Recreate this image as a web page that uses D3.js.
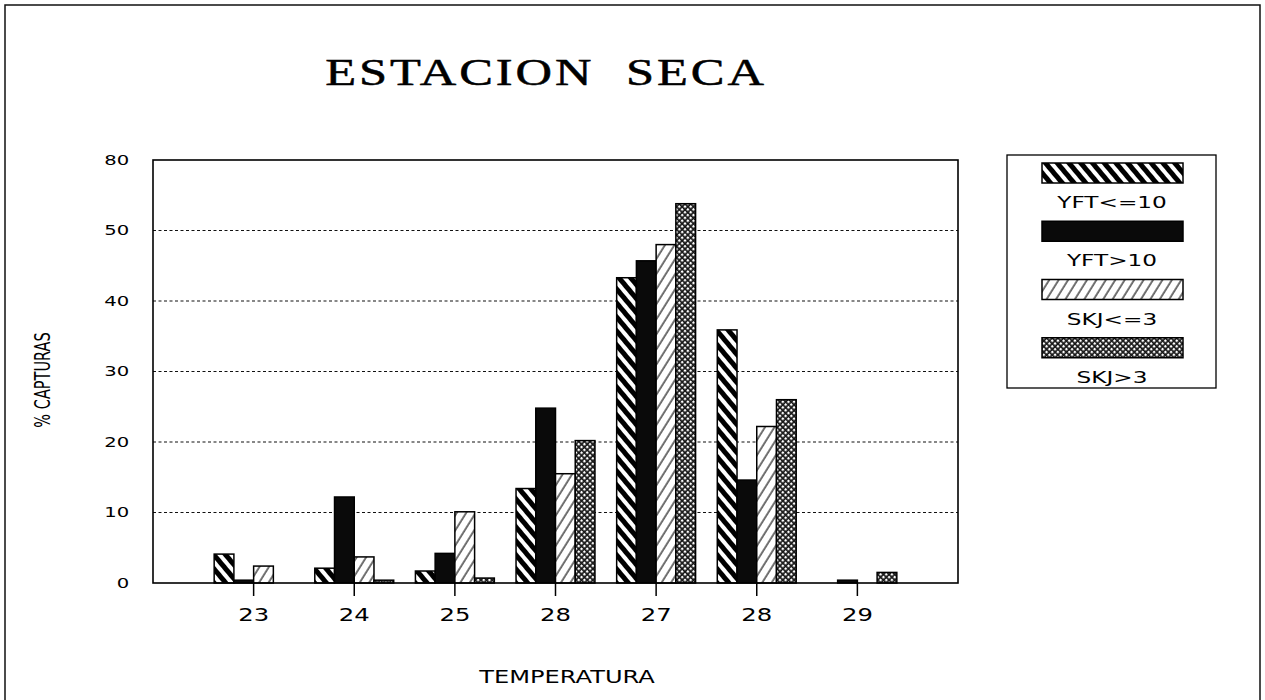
<!DOCTYPE html>
<html lang="es">
<head>
<meta charset="UTF-8">
<title>Estacion seca</title>
<script src="https://d3js.org/d3.v7.min.js"></script>
<style>
    body { margin: 0; background: #fff; }
    text { font-family: "DejaVu Sans", sans-serif; fill: #000; }
</style>
</head>
<body>
<div id="chart"></div>
<script>
    // data
    const tempLabels = ["23", "24", "25", "28", "27", "28", "29"];
    const seriesNames = ["YFT<=10", "YFT>10", "SKJ<=3", "SKJ>3"];
    const yftSmall = [4.1, 2.1, 1.7, 13.4, 43.3, 35.9, 0];
    const yftLarge = [0.4, 12.2, 4.2, 24.8, 45.7, 14.6, 0.4];
    const skjSmall = [2.4, 3.7, 10.1, 15.5, 48.0, 22.2, 0];
    const skjLarge = [0, 0.4, 0.7, 20.2, 53.8, 26.0, 1.5];
    const yTickValues = [0, 10, 20, 30, 40, 50, 60];
    const yTickLabels = ["0", "10", "20", "30", "40", "50", "80"];

    const seriesValues = [yftSmall, yftLarge, skjSmall, skjLarge];
    const fills = ["url(#hatchThick)", "#0a0a0a", "url(#hatchThin)", "url(#cross)"];

    const W = 1265, H = 700;
    const plot = {left: 153, right: 958, top: 160, bottom: 583};

    const svg = d3.select("#chart").append("svg")
        .attr("width", W).attr("height", H);

    // patterns
    const defs = svg.append("defs");
    const p1 = defs.append("pattern").attr("id", "hatchThick")
        .attr("patternUnits", "userSpaceOnUse").attr("width", 9).attr("height", 9)
        .attr("patternTransform", "rotate(-40)");
    p1.append("rect").attr("width", 9).attr("height", 9).attr("fill", "#fff");
    p1.append("rect").attr("width", 5).attr("height", 9).attr("fill", "#000");

    const p2 = defs.append("pattern").attr("id", "hatchThin")
        .attr("patternUnits", "userSpaceOnUse").attr("width", 8).attr("height", 8)
        .attr("patternTransform", "rotate(32)");
    p2.append("rect").attr("width", 8).attr("height", 8).attr("fill", "#fff");
    p2.append("rect").attr("x", 3.5).attr("width", 1.1).attr("height", 8).attr("fill", "#000");

    const p3 = defs.append("pattern").attr("id", "cross")
        .attr("patternUnits", "userSpaceOnUse").attr("width", 4).attr("height", 4)
        .attr("patternTransform", "rotate(45)");
    p3.append("rect").attr("width", 4).attr("height", 4).attr("fill", "#151515");
    p3.append("rect").attr("x", 1).attr("y", 1).attr("width", 2.3).attr("height", 2.3).attr("fill", "#fff");

    // page frame of the scan
    svg.append("path")
        .attr("d", `M5,${H} V5 H1260 V${H}`)
        .attr("fill", "none").attr("stroke", "#111").attr("stroke-width", 1.5);

    // scales
    const x = d3.scaleBand()
        .domain(d3.range(tempLabels.length))
        .range([plot.left, plot.right])
        .paddingOuter(0.5).paddingInner(0);

    const x1 = d3.scaleBand()
        .domain(seriesNames)
        .range([0, x.bandwidth()])
        .paddingOuter(0.55).paddingInner(0);

    const y = d3.scaleLinear()
        .domain([0, 60])
        .range([plot.bottom, plot.top]);

    // dotted grid
    svg.append("g")
        .selectAll("line")
        .data(yTickValues.slice(1, -1))
        .join("line")
        .attr("x1", plot.left).attr("x2", plot.right)
        .attr("y1", d => y(d)).attr("y2", d => y(d))
        .attr("stroke", "#111").attr("stroke-width", 1.2)
        .attr("stroke-dasharray", "3,2.5");

    // bars
    const groups = svg.append("g")
        .selectAll("g")
        .data(tempLabels.map((t, i) => i))
        .join("g")
        .attr("transform", i => `translate(${x(i)},0)`);

    groups.selectAll("rect")
        .data(i => seriesNames.map((s, k) => ({key: s, k: k, v: seriesValues[k][i]})))
        .join("rect")
        .filter(d => d.v > 0)
        .attr("x", d => x1(d.key))
        .attr("y", d => y(d.v))
        .attr("width", x1.bandwidth())
        .attr("height", d => y(0) - y(d.v))
        .attr("fill", d => fills[d.k])
        .attr("stroke", "#000")
        .attr("stroke-width", 1.5);

    // plot frame
    svg.append("rect")
        .attr("x", plot.left).attr("y", plot.top)
        .attr("width", plot.right - plot.left)
        .attr("height", plot.bottom - plot.top)
        .attr("fill", "none").attr("stroke", "#000").attr("stroke-width", 1.6);

    // x axis
    const xAxis = svg.append("g")
        .attr("transform", `translate(0,${plot.bottom})`)
        .call(d3.axisBottom(x).tickSize(13).tickPadding(12)
            .tickFormat(i => tempLabels[i]));
    xAxis.select(".domain").remove();
    xAxis.selectAll(".tick line").attr("stroke", "#000").attr("stroke-width", 1.5);
    xAxis.selectAll("text")
        .attr("font-size", 18)
        .attr("transform", "scale(1.35,1)");

    // y axis
    const yAxis = svg.append("g")
        .attr("transform", `translate(${plot.left},0)`)
        .call(d3.axisLeft(y).tickValues(yTickValues).tickSize(0).tickPadding(17)
            .tickFormat((d, i) => yTickLabels[i]));
    yAxis.select(".domain").remove();
    yAxis.selectAll("text")
        .attr("font-size", 14)
        .attr("transform", "scale(1.4,1)");

    // title
    svg.append("text")
        .attr("transform", "translate(546,85) scale(1.33,1)")
        .attr("text-anchor", "middle")
        .attr("font-size", 38)
        .attr("letter-spacing", 2.2)
        .attr("word-spacing", 12)
        .attr("stroke", "#000").attr("stroke-width", 0.5)
        .style("font-family", "'Liberation Serif', serif")
        .text("ESTACION SECA");

    // axis titles
    svg.append("text")
        .attr("transform", "translate(567,683) scale(1.42,1)")
        .attr("text-anchor", "middle")
        .attr("font-size", 17)
        .text("TEMPERATURA");

    svg.append("text")
        .attr("transform", "translate(50,380) rotate(-90) scale(0.66,1)")
        .attr("text-anchor", "middle")
        .attr("font-size", 22)
        .text("% CAPTURAS");

    // legend
    const legend = svg.append("g").attr("transform", "translate(1007,155)");
    legend.append("rect")
        .attr("width", 209).attr("height", 233)
        .attr("fill", "#fff").attr("stroke", "#000").attr("stroke-width", 1.3);

    const ly = d3.scaleBand().domain(seriesNames).range([8, 241]);

    const items = legend.selectAll("g.item")
        .data(seriesNames)
        .join("g")
        .attr("class", "item")
        .attr("transform", d => `translate(0,${ly(d)})`);

    items.append("rect")
        .attr("x", 35).attr("width", 141).attr("height", 20)
        .attr("fill", (d, i) => fills[i])
        .attr("stroke", "#000").attr("stroke-width", 1.5);

    items.append("text")
        .attr("transform", "translate(105,45) scale(1.45,1)")
        .attr("text-anchor", "middle")
        .attr("font-size", 16)
        .text(d => d);
</script>
</body>
</html>
